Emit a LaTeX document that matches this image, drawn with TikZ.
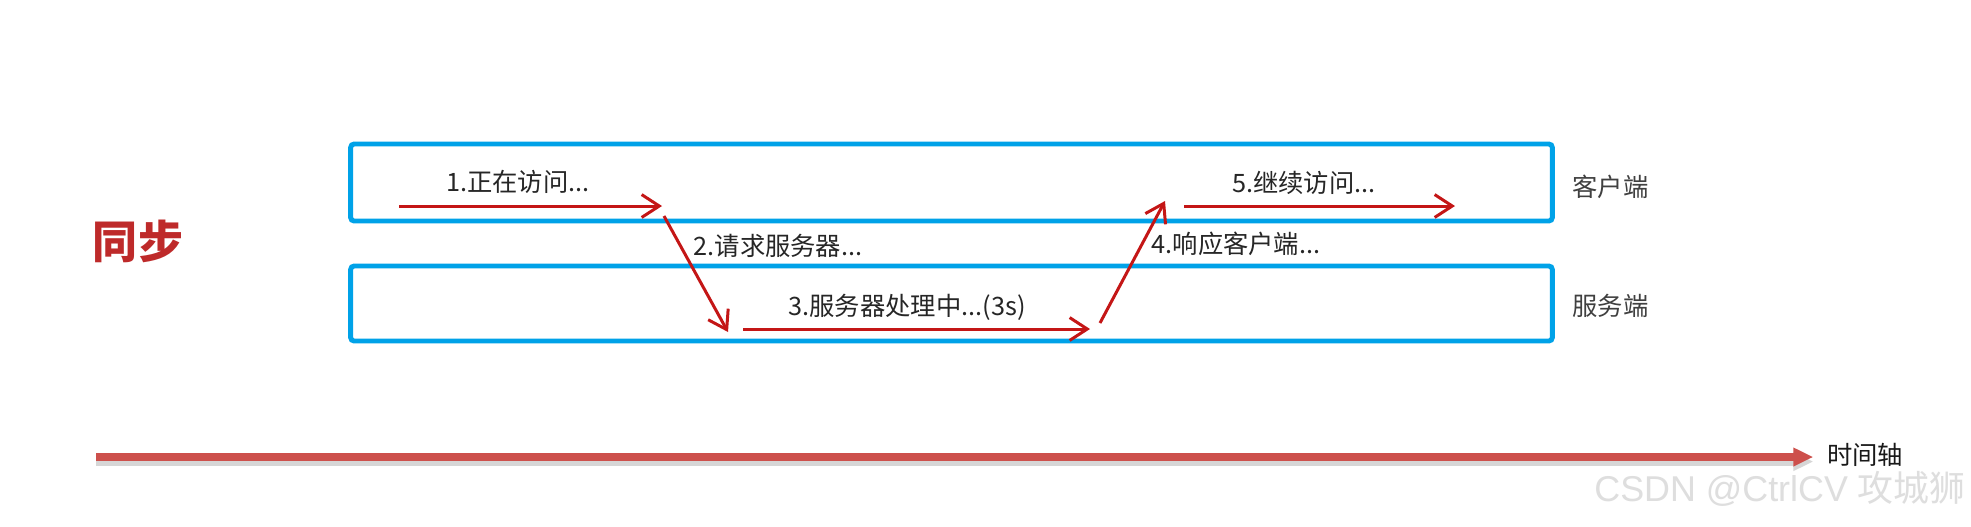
\documentclass[tikz,border=0pt]{standalone}
\usepackage{fontspec}
\setmainfont{Noto Sans CJK SC}
\newfontfamily\markfont{Liberation Sans}
\usetikzlibrary{arrows.meta, positioning}
\definecolor{laneblue}{RGB}{0,162,232}
\definecolor{flowred}{RGB}{196,22,22}
\definecolor{axisred}{RGB}{205,80,76}
\definecolor{titlered}{RGB}{190,42,42}
\tikzset{
lane/.style={draw=laneblue, line width=1.4pt, rounded corners=1pt, minimum width=12.01cm, inner sep=0pt}, % the two swim lanes
flow/.style={draw=flowred, line width=0.85pt, -{Straight Barb[length=5pt, width=6.5pt]}}, % the red steps
stepnote/.style={font=\fontsize{7.2}{8}\selectfont, text=black!85, inner sep=0pt}, % text over a step
lanelabel/.style={font=\fontsize{7.2}{8}\selectfont, text=black!75, inner sep=0pt}, % names right of the lanes
axis/.style={draw=axisred, line width=2pt, -{Triangle[length=5.7pt, width=5pt]},
  preaction={draw=black!16, line width=2.4pt, transform canvas={yshift=-1.3pt}, -{Triangle[length=5.7pt, width=5pt]}}}, % time axis with its shadow
}

\begin{document}
\begin{tikzpicture}[x=0.01cm, y=-0.01cm]
      \useasboundingbox (0,0) rectangle (1971,526);
      \fill[white] (0,0) rectangle (1971,526);

      \node[lane, minimum height=0.77cm] (client) at (951.5,182.5) {};
      \node[lane, minimum height=0.75cm] (server) at (951.5,303.5) {};
      \node[lanelabel, right=0.17cm of client, yshift=-0.04cm] (clientname) {客户端};
      \node[lanelabel, right=0.17cm of server, yshift=-0.02cm] (servername) {服务端};

      \node[font=\fontsize{12.8}{14}\selectfont\bfseries, text=titlered, inner sep=0pt] (title) at (138,241) {同步};

      \coordinate (c1) at (399,206);
      \coordinate (c2) at (662,206);
      \coordinate (c3) at (664,216);
      \coordinate (s1) at (728,332);
      \coordinate (s2) at (743,329);
      \coordinate (s3) at (1090,329);
      \coordinate (s4) at (1100,323);
      \coordinate (c4) at (1165,201);
      \coordinate (c5) at (1184,206);
      \coordinate (c6) at (1455,206);

      \node[stepnote] (n1) at (518,182) {1.正在访问...};
      \node[stepnote] (n2) at (778,246) {2.请求服务器...};
      \node[stepnote] (n3) at (907,307) {3.服务器处理中...(3s)};
      \node[stepnote] (n4) at (1236,244) {4.响应客户端...};
      \node[stepnote] (n5) at (1304,183) {5.继续访问...};

      \draw[flow] (c1) -- (c2);
      \draw[flow] (c3) -- (s1);
      \draw[flow] (s2) -- (s3);
      \draw[flow] (s4) -- (c4);
      \draw[flow] (c5) -- (c6);

      \coordinate (t0) at (96,457);
      \node[lanelabel, text=black!90] (time) at (1865,455) {时间轴};
      \draw[axis, shorten >=0.13cm] (t0) -- (t0 -| time.west);

      \node[font=\markfont\fontsize{10.2}{12}\selectfont, text=black!13, inner sep=0pt] (mark) at (1780,489) {CSDN @CtrlCV {\rmfamily 攻城狮}};
\end{tikzpicture}
\end{document}
